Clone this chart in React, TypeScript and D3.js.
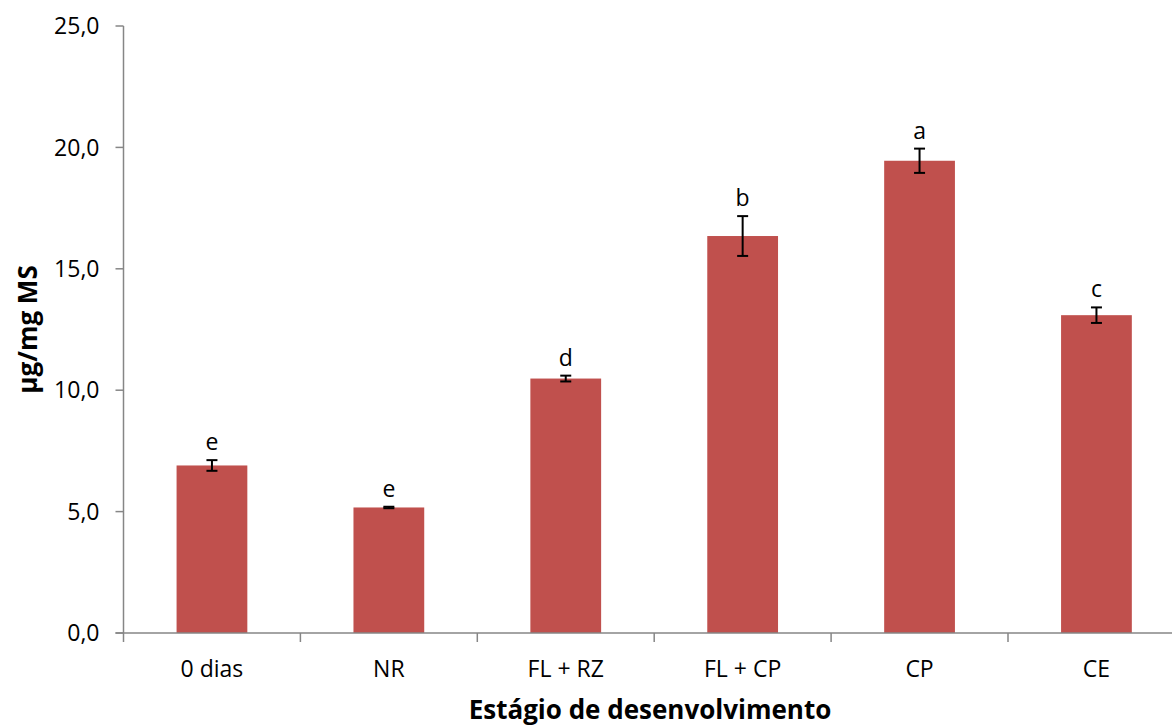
import React from "react";
import * as d3 from "d3";

const categories = ["0 dias", "NR", "FL + RZ", "FL + CP", "CP", "CE"];
const values = [6.9, 5.17, 10.48, 16.35, 19.45, 13.09];
const errors = [0.22, 0.03, 0.12, 0.82, 0.5, 0.32];
const letters = ["e", "e", "d", "b", "a", "c"];
const yTicks = [0, 5, 10, 15, 20, 25];

const W = 1172;
const H = 727;
const left = 123.5;
const bandW = 176.9;
const top = 26;
const bottom = 633;
const FONT = "'Open Sans', 'Noto Sans', sans-serif";

export default function App() {
  const x = d3
    .scaleBand<string>()
    .domain(categories)
    .range([left, left + bandW * categories.length])
    .paddingInner(0.6)
    .paddingOuter(0.3);
  const y = d3.scaleLinear().domain([0, 25]).range([bottom, top]);
  const fmt = (v: number) => d3.format(".1f")(v).replace(".", ",");
  const axisColor = "#868686";

  return (
    <svg
      width={W}
      height={H}
      style={{ position: "absolute", left: 0, top: 0, background: "#fff" }}
      fontFamily={FONT}
    >
      {/* bars */}
      {categories.map((c, i) => (
        <rect
          key={c}
          x={x(c)}
          y={y(values[i])}
          width={x.bandwidth()}
          height={y(0) - y(values[i])}
          fill="#C0504D"
        />
      ))}
      {/* axes */}
      <line x1={left} x2={left} y1={top} y2={bottom} stroke={axisColor} strokeWidth={1.5} />
      <line x1={left - 8} x2={W} y1={bottom} y2={bottom} stroke={axisColor} strokeWidth={1.5} />
      {yTicks.map((t) => (
        <g key={t}>
          <line x1={left - 8} x2={left} y1={y(t)} y2={y(t)} stroke={axisColor} strokeWidth={1.5} />
          <text
            x={left - 24}
            y={y(t)}
            dy="0.36em"
            textAnchor="end"
            fontSize={23}
            fill="#000"
          >
            {fmt(t)}
          </text>
        </g>
      ))}
      {categories.map((c, i) => (
        <line
          key={"b" + c}
          x1={left + i * bandW}
          x2={left + i * bandW}
          y1={bottom}
          y2={bottom + 9}
          stroke={axisColor}
          strokeWidth={1.5}
        />
      ))}
      {categories.map((c) => (
        <text
          key={"l" + c}
          x={(x(c) ?? 0) + x.bandwidth() / 2}
          y={677}
          textAnchor="middle"
          fontSize={23}
          fill="#000"
        >
          {c}
        </text>
      ))}
      {/* error bars */}
      {categories.map((c, i) => {
        const cx = (x(c) ?? 0) + x.bandwidth() / 2;
        const y1 = y(values[i] + errors[i]);
        const y2 = y(values[i] - errors[i]);
        return (
          <g key={"e" + c} stroke="#000" strokeWidth={2}>
            <line x1={cx} x2={cx} y1={y1} y2={y2} />
            <line x1={cx - 5.5} x2={cx + 5.5} y1={y1} y2={y1} />
            <line x1={cx - 5.5} x2={cx + 5.5} y1={y2} y2={y2} />
          </g>
        );
      })}
      {/* letters */}
      {categories.map((c, i) => (
        <text
          key={"t" + c}
          x={(x(c) ?? 0) + x.bandwidth() / 2}
          y={y(values[i] + errors[i]) - 10}
          textAnchor="middle"
          fontSize={23}
          fill="#000"
        >
          {letters[i]}
        </text>
      ))}
      {/* titles */}
      <text
        x={650}
        y={719}
        textAnchor="middle"
        fontSize={26}
        fontWeight="bold"
        fill="#000"
      >
        Estágio de desenvolvimento
      </text>
      <text
        transform={`translate(37, ${(top + bottom) / 2}) rotate(-90)`}
        textAnchor="middle"
        fontSize={26}
        fontWeight="bold"
        fill="#000"
      >
        µg/mg MS
      </text>
    </svg>
  );
}
